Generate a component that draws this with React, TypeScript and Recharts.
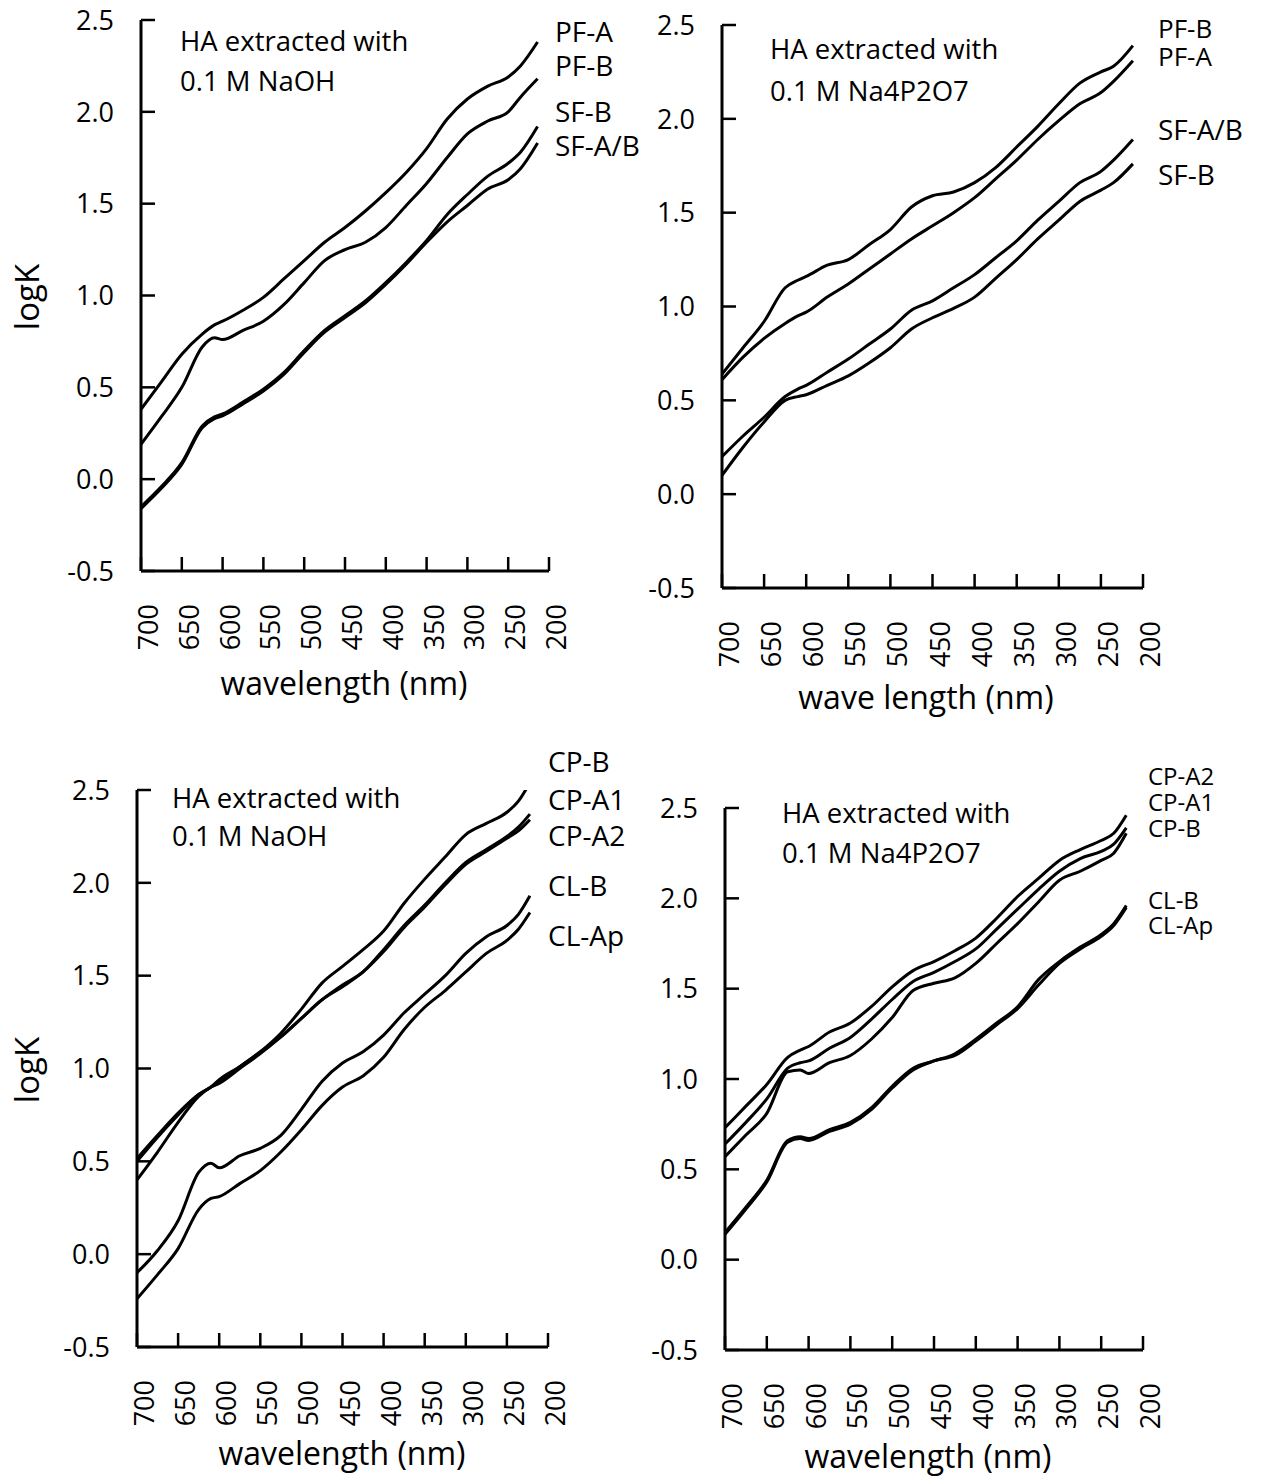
import React from 'react'
import { LineChart, Line, XAxis, YAxis } from 'recharts'

const FONT = '"Open Sans", sans-serif'

// shared axis ticks
const wlTicks = [700, 650, 600, 550, 500, 450, 400, 350, 300, 250, 200]
const logKTicks = [-0.5, 0, 0.5, 1.0, 1.5, 2.0, 2.5]

// ---- top left: NaOH, PF / SF
const wlA = [700, 675, 650, 625, 610, 600, 575, 550, 525, 500, 475, 450, 425, 400, 375, 350, 325, 300, 275, 250, 235, 214]
const pfA_naoh = [0.38, 0.53, 0.68, 0.79, 0.84, 0.86, 0.92, 0.99, 1.09, 1.19, 1.29, 1.37, 1.46, 1.56, 1.67, 1.80, 1.96, 2.07, 2.14, 2.19, 2.25, 2.38]
const pfB_naoh = [0.19, 0.34, 0.50, 0.72, 0.77, 0.76, 0.81, 0.86, 0.95, 1.07, 1.19, 1.25, 1.29, 1.37, 1.49, 1.61, 1.75, 1.88, 1.95, 2.00, 2.08, 2.18]
const sfB_naoh = [-0.15, -0.04, 0.09, 0.29, 0.34, 0.355, 0.42, 0.49, 0.58, 0.70, 0.81, 0.89, 0.97, 1.07, 1.18, 1.30, 1.44, 1.55, 1.65, 1.72, 1.78, 1.92]
const sfAB_naoh = [-0.16, -0.05, 0.08, 0.28, 0.33, 0.345, 0.41, 0.48, 0.57, 0.69, 0.80, 0.88, 0.96, 1.06, 1.17, 1.29, 1.40, 1.49, 1.58, 1.63, 1.69, 1.83]

// ---- top right: Na4P2O7, PF / SF
const wlB = [700, 675, 650, 625, 610, 600, 575, 550, 525, 500, 475, 450, 425, 400, 375, 350, 325, 300, 275, 250, 235, 212]
const pfB_pyro = [0.64, 0.78, 0.92, 1.10, 1.14, 1.16, 1.22, 1.25, 1.33, 1.41, 1.53, 1.59, 1.61, 1.66, 1.74, 1.85, 1.96, 2.08, 2.19, 2.25, 2.28, 2.39]
const pfA_pyro = [0.61, 0.73, 0.83, 0.91, 0.95, 0.97, 1.05, 1.12, 1.20, 1.28, 1.36, 1.43, 1.50, 1.58, 1.68, 1.78, 1.89, 1.99, 2.08, 2.14, 2.20, 2.31]
const sfAB_pyro = [0.20, 0.31, 0.41, 0.52, 0.56, 0.58, 0.65, 0.72, 0.80, 0.88, 0.98, 1.03, 1.10, 1.17, 1.26, 1.35, 1.46, 1.56, 1.66, 1.72, 1.78, 1.89]
const sfB_pyro = [0.10, 0.25, 0.385, 0.50, 0.52, 0.53, 0.58, 0.63, 0.70, 0.78, 0.88, 0.94, 0.99, 1.05, 1.15, 1.25, 1.36, 1.46, 1.56, 1.62, 1.66, 1.76]

// ---- bottom left: NaOH, CP / CL
const wlC = [700, 675, 650, 625, 610, 600, 575, 550, 525, 500, 475, 450, 425, 400, 375, 350, 325, 300, 275, 250, 236, 222]
const cpB_naoh = [0.515, 0.64, 0.76, 0.86, 0.90, 0.94, 1.01, 1.09, 1.19, 1.32, 1.46, 1.55, 1.64, 1.74, 1.89, 2.02, 2.14, 2.26, 2.32, 2.38, 2.44, 2.54]
const cpA1_naoh = [0.50, 0.63, 0.75, 0.86, 0.90, 0.93, 1.01, 1.09, 1.17, 1.27, 1.37, 1.45, 1.52, 1.64, 1.77, 1.88, 2.00, 2.11, 2.18, 2.25, 2.30, 2.37]
const cpA2_naoh = [0.40, 0.55, 0.71, 0.85, 0.90, 0.92, 1.00, 1.08, 1.17, 1.27, 1.37, 1.44, 1.52, 1.63, 1.76, 1.87, 1.99, 2.10, 2.17, 2.24, 2.28, 2.34]
const clB_naoh = [-0.10, 0.02, 0.18, 0.44, 0.49, 0.465, 0.53, 0.57, 0.64, 0.78, 0.93, 1.03, 1.09, 1.18, 1.30, 1.40, 1.50, 1.62, 1.71, 1.77, 1.83, 1.93]
const clAp_naoh = [-0.24, -0.11, 0.03, 0.24, 0.30, 0.31, 0.38, 0.45, 0.55, 0.67, 0.80, 0.90, 0.96, 1.06, 1.21, 1.33, 1.42, 1.52, 1.62, 1.69, 1.75, 1.84]

// ---- bottom right: Na4P2O7, CP / CL
const wlD = [700, 675, 650, 625, 610, 600, 575, 550, 525, 500, 475, 450, 425, 400, 375, 350, 325, 300, 275, 250, 235, 220]
const cpA2_pyro = [0.73, 0.85, 0.97, 1.12, 1.16, 1.18, 1.26, 1.31, 1.40, 1.51, 1.60, 1.65, 1.71, 1.78, 1.89, 2.01, 2.11, 2.21, 2.27, 2.32, 2.36, 2.46]
const cpA1_pyro = [0.64, 0.76, 0.89, 1.06, 1.09, 1.10, 1.17, 1.23, 1.33, 1.44, 1.54, 1.59, 1.65, 1.72, 1.83, 1.94, 2.05, 2.15, 2.22, 2.26, 2.30, 2.39]
const cpB_pyro = [0.57, 0.69, 0.81, 1.04, 1.05, 1.03, 1.09, 1.13, 1.22, 1.34, 1.49, 1.53, 1.56, 1.64, 1.75, 1.86, 1.98, 2.10, 2.15, 2.21, 2.25, 2.36]
const clB_pyro = [0.15, 0.29, 0.44, 0.66, 0.68, 0.67, 0.72, 0.76, 0.84, 0.96, 1.06, 1.10, 1.14, 1.22, 1.31, 1.40, 1.55, 1.65, 1.73, 1.80, 1.86, 1.96]
const clAp_pyro = [0.14, 0.28, 0.43, 0.65, 0.67, 0.66, 0.71, 0.75, 0.83, 0.95, 1.05, 1.10, 1.13, 1.21, 1.30, 1.39, 1.52, 1.64, 1.72, 1.79, 1.85, 1.95]

const panels = [
  {
    id: 'a', wl: wlA, box: { x0: 141, x1: 549, y0: 20, y1: 571 },
    series: [pfA_naoh, pfB_naoh, sfB_naoh, sfAB_naoh],
  },
  {
    id: 'b', wl: wlB, box: { x0: 722, x1: 1143, y0: 25, y1: 588 },
    series: [pfB_pyro, pfA_pyro, sfAB_pyro, sfB_pyro],
  },
  {
    id: 'c', wl: wlC, box: { x0: 137, x1: 548, y0: 790, y1: 1347 },
    series: [cpB_naoh, cpA1_naoh, cpA2_naoh, clB_naoh, clAp_naoh],
  },
  {
    id: 'd', wl: wlD, box: { x0: 725, x1: 1143, y0: 808, y1: 1350 },
    series: [cpA2_pyro, cpA1_pyro, cpB_pyro, clB_pyro, clAp_pyro],
  },
]

const XTick = (props: any) => {
  const { x, y, payload } = props
  return (
    <g>
      <line x1={x} y1={y} x2={x} y2={y - 14} stroke="#000" strokeWidth={2.5} />
      <text
        transform={`translate(${x + 17},${y + 33}) rotate(-90)`}
        textAnchor="end"
        fontSize={27}
        fontWeight={500}
        fontFamily={FONT}
        fill="#000"
      >
        {payload.value}
      </text>
    </g>
  )
}

const YTick = (props: any) => {
  const { x, y, payload } = props
  return (
    <g>
      <line x1={x} y1={y} x2={x + 14} y2={y} stroke="#000" strokeWidth={2.5} />
      <text x={x - 27} y={y} dy="0.36em" textAnchor="end" fontSize={27} fontWeight={500} fontFamily={FONT} fill="#000">
        {Number(payload.value).toFixed(1)}
      </text>
    </g>
  )
}

function Panel({ wl, series, box }: any) {
  const padL = 120, padT = 20, padR = 45, padB = 150
  const width = box.x1 - box.x0 + padL + padR
  const height = box.y1 - box.y0 + padT + padB
  const rows = wl.map((w: number, i: number) => {
    const r: any = { wl: w }
    series.forEach((s: number[], k: number) => { r['s' + k] = s[i] })
    return r
  })
  return (
    <div style={{ position: 'absolute', left: box.x0 - padL, top: box.y0 - padT }}>
      <LineChart width={width} height={height} data={rows} margin={{ top: padT, right: padR, left: 0, bottom: 0 }}>
        <XAxis
          dataKey="wl" type="number" domain={[200, 700]} reversed allowDataOverflow
          ticks={wlTicks} interval={0} height={padB}
          tickSize={0} tickMargin={0} tickLine={false} tick={<XTick />}
          axisLine={{ stroke: '#000', strokeWidth: 3 }}
        />
        <YAxis
          type="number" domain={[-0.5, 2.5]} allowDataOverflow
          ticks={logKTicks} interval={0} width={padL}
          tickSize={0} tickMargin={0} tickLine={false} tick={<YTick />}
          axisLine={{ stroke: '#000', strokeWidth: 3 }}
        />
        {series.map((_: any, k: number) => (
          <Line
            key={k} dataKey={'s' + k} type="monotone" stroke="#000" strokeWidth={3}
            dot={false} activeDot={false} isAnimationActive={false}
          />
        ))}
      </LineChart>
    </div>
  )
}

const notes = [
  { x: 180, y: 51, t: 'HA extracted with' }, { x: 180, y: 91, t: '0.1 M NaOH' },
  { x: 770, y: 59, t: 'HA extracted with' }, { x: 770, y: 101, t: '0.1 M Na4P2O7' },
  { x: 172, y: 808, t: 'HA extracted with' }, { x: 172, y: 846, t: '0.1 M NaOH' },
  { x: 782, y: 823, t: 'HA extracted with' }, { x: 782, y: 863, t: '0.1 M Na4P2O7' },
]

const seriesNames = [
  { x: 555, y: 42, t: 'PF-A', s: 28 }, { x: 555, y: 76, t: 'PF-B', s: 28 }, { x: 555, y: 122, t: 'SF-B', s: 28 }, { x: 555, y: 156, t: 'SF-A/B', s: 28 },
  { x: 1158, y: 38, t: 'PF-B', s: 26 }, { x: 1158, y: 66, t: 'PF-A', s: 26 }, { x: 1158, y: 140, t: 'SF-A/B', s: 28 }, { x: 1158, y: 185, t: 'SF-B', s: 28 },
  { x: 548, y: 772, t: 'CP-B', s: 28 }, { x: 548, y: 810, t: 'CP-A1', s: 28 }, { x: 548, y: 846, t: 'CP-A2', s: 28 }, { x: 548, y: 896, t: 'CL-B', s: 28 }, { x: 548, y: 946, t: 'CL-Ap', s: 28 },
  { x: 1148, y: 785, t: 'CP-A2', s: 24 }, { x: 1148, y: 811, t: 'CP-A1', s: 24 }, { x: 1148, y: 837, t: 'CP-B', s: 24 }, { x: 1148, y: 909, t: 'CL-B', s: 24 }, { x: 1148, y: 934, t: 'CL-Ap', s: 24 },
]

const xTitles = [
  { x: 344, y: 695, t: 'wavelength (nm)' },
  { x: 926, y: 709, t: 'wave length (nm)' },
  { x: 342, y: 1465, t: 'wavelength (nm)' },
  { x: 928, y: 1468, t: 'wavelength (nm)' },
]

const yTitles = [
  { x: 39, y: 297, t: 'logK' },
  { x: 39, y: 1070, t: 'logK' },
]

export default function App() {
  return (
    <div style={{ position: 'absolute', left: 0, top: 0, width: 1264, height: 1479, background: '#fff' }}>
      {panels.map(p => <Panel key={p.id} {...p} />)}
      <svg width={1264} height={1479} style={{ position: 'absolute', left: 0, top: 0, pointerEvents: 'none' }}>
        <g fontFamily={FONT} fontWeight={500} fill="#000">
          {notes.map((n, i) => <text key={'n' + i} x={n.x} y={n.y} fontSize={27.5}>{n.t}</text>)}
          {seriesNames.map((n, i) => <text key={'s' + i} x={n.x} y={n.y} fontSize={n.s}>{n.t}</text>)}
          {xTitles.map((n, i) => <text key={'x' + i} x={n.x} y={n.y} fontSize={32} textAnchor="middle">{n.t}</text>)}
          {yTitles.map((n, i) => (
            <text key={'y' + i} transform={`translate(${n.x},${n.y}) rotate(-90)`} fontSize={33} textAnchor="middle">{n.t}</text>
          ))}
        </g>
      </svg>
    </div>
  )
}
